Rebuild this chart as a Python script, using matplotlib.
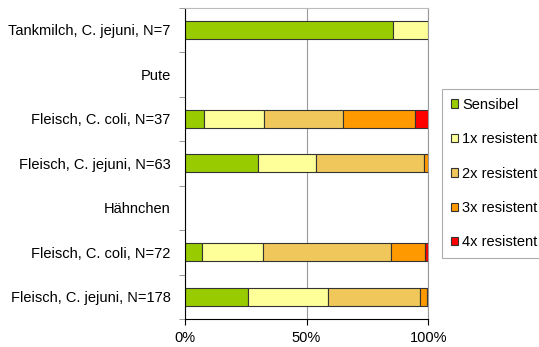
import matplotlib.pyplot as plt
import numpy as np

plt.rcParams['font.family'] = ['Liberation Sans', 'DejaVu Sans']

# Kategorien von oben nach unten
kategorien = ["Tankmilch, C. jejuni, N=7", "Pute", "Fleisch, C. coli, N=37",
              "Fleisch, C. jejuni, N=63", "Hähnchen", "Fleisch, C. coli, N=72",
              "Fleisch, C. jejuni, N=178"]
n_isolate = [7, 0, 37, 63, 0, 72, 178]

# Anzahl Isolate je Resistenzstufe
sensibel = [6, 0, 3, 19, 0, 5, 46]
resistent_1x = [1, 0, 9, 15, 0, 18, 59]
resistent_2x = [0, 0, 12, 28, 0, 38, 67]
resistent_3x = [0, 0, 11, 1, 0, 10, 5]
resistent_4x = [0, 0, 2, 0, 0, 1, 1]

stufen = ["Sensibel", "1x resistent", "2x resistent", "3x resistent", "4x resistent"]
farben = ["#99CC00", "#FFFF99", "#EFC75A", "#FF9900", "#FF0000"]

fig = plt.figure(figsize=(5.39, 3.47), dpi=100)
ax = fig.add_axes([184.7 / 539, 1 - 319 / 347, 243.6 / 539, 311.5 / 347])

y = np.arange(len(kategorien))
n = np.array(n_isolate, dtype=float)
n[n == 0] = 1
links = np.zeros(len(kategorien))
for name, werte, farbe in zip(stufen, [sensibel, resistent_1x, resistent_2x,
                                       resistent_3x, resistent_4x], farben):
    anteil = np.array(werte) / n
    vorhanden = anteil > 0  # leere Segmente nicht zeichnen
    ax.barh(y[vorhanden], anteil[vorhanden], left=links[vorhanden], height=0.4,
            color=farbe, edgecolor="#333333", linewidth=0.8, label=name)
    links += anteil

ax.set_xlim(0, 1)
ax.set_ylim(len(kategorien) - 0.5, -0.5)
ax.set_yticks(y)
ax.set_yticklabels(kategorien, fontsize=10.5)
ax.set_yticks(np.arange(len(kategorien) + 1) - 0.5, minor=True)
ax.tick_params(axis="y", which="major", length=0, pad=10)
ax.tick_params(axis="y", which="minor", length=4, color="#888888")
ax.set_xticks([0, 0.5, 1])
ax.set_xticklabels(["0%", "50%", "100%"], fontsize=10.5)
ax.tick_params(axis="x", length=4, color="black", pad=5)

ax.grid(axis="x", color="#999999", linewidth=0.8)
ax.set_axisbelow(True)
ax.spines["top"].set_color("#bbbbbb")
ax.spines["right"].set_color("#999999")
ax.spines["left"].set_color("black")
ax.spines["bottom"].set_color("black")

leg = fig.legend(loc="upper left", bbox_to_anchor=(442 / 539, 1 - 89 / 347),
                 fontsize=10.5, frameon=True, fancybox=False, handlelength=0.5,
                 handleheight=0.5, handletextpad=0.3, labelspacing=1.4,
                 borderpad=0.6, borderaxespad=0)
leg.get_frame().set_edgecolor("#999999")
leg.get_frame().set_linewidth(0.8)

fig.savefig("out.png", dpi=100)
